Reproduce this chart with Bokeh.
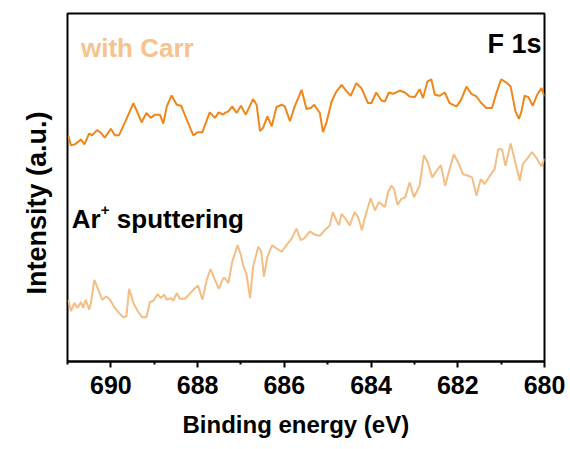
from bokeh.plotting import figure
from bokeh.models import Range1d, FixedTicker, Label, Title
from bokeh.embed import file_html
from bokeh.resources import INLINE

# Binding energy (eV) and intensity (a.u.)
carr_energy = [690.98, 690.92, 690.83, 690.69, 690.61, 690.50, 690.43, 690.32, 690.23, 690.14,
               690.00, 689.91, 689.81, 689.68, 689.48, 689.29, 689.18, 689.08, 688.98, 688.87,
               688.79, 688.71, 688.60, 688.48, 688.38, 688.25, 688.10, 687.99, 687.89, 687.72,
               687.60, 687.51, 687.41, 687.37, 687.29, 687.20, 687.10, 687.00, 686.89, 686.72,
               686.64, 686.56, 686.49, 686.39, 686.29, 686.18, 686.06, 685.99, 685.87, 685.76,
               685.60, 685.49, 685.39, 685.31, 685.18, 685.11, 685.03, 684.91, 684.80, 684.68,
               684.59, 684.47, 684.34, 684.22, 684.07, 683.99, 683.88, 683.76, 683.68, 683.59,
               683.49, 683.34, 683.22, 683.11, 682.99, 682.88, 682.80, 682.70, 682.61, 682.53,
               682.42, 682.30, 682.19, 682.03, 681.93, 681.80, 681.69, 681.57, 681.46, 681.34,
               681.21, 681.11, 681.00, 680.88, 680.78, 680.67, 680.59, 680.53, 680.46, 680.37,
               680.27, 680.17, 680.07, 680.00]
carr_intensity = [227.3, 218, 219, 224, 219, 230, 228, 233.3, 230.7, 225.7,
                  234.7, 228.3, 228.3, 240.7, 260.7, 241.3, 250.7, 245.7, 249, 249,
                  240, 257.3, 268.3, 259, 258, 244, 228, 231.3, 231.3, 251.3,
                  245.7, 251.3, 249, 250.7, 252.3, 257.3, 250.7, 258, 249, 264.7,
                  259, 232.3, 235.7, 247.3, 237.3, 256.7, 259, 257.3, 242.3, 257.3,
                  274, 254.7, 255.7, 259, 250.7, 231.3, 240.7, 262.3, 272.3, 279,
                  274, 268, 280.7, 275.7, 260.7, 260.7, 271.3, 263.3, 262.3, 271.3,
                  270, 273.3, 271.3, 267.3, 266.7, 274.7, 265.7, 282.3, 284.7, 269,
                  268, 271.3, 260.7, 257.3, 263.3, 277.3, 270, 267.3, 260.7, 255.7,
                  255.7, 270.7, 284.7, 281.3, 277.3, 252.3, 244.7, 252.3, 268, 266.7,
                  258, 269, 275.7, 267.3]

ar_energy = [690.98, 690.92, 690.84, 690.77, 690.69, 690.64, 690.58, 690.50, 690.46, 690.38,
             690.29, 690.20, 690.10, 690.02, 689.91, 689.81, 689.71, 689.64, 689.58, 689.48,
             689.38, 689.28, 689.18, 689.10, 689.02, 688.92, 688.85, 688.77, 688.71, 688.62,
             688.56, 688.48, 688.41, 688.29, 688.20, 688.10, 687.99, 687.89, 687.79, 687.70,
             687.60, 687.51, 687.41, 687.37, 687.29, 687.20, 687.08, 687.00, 686.95, 686.87,
             686.79, 686.72, 686.60, 686.53, 686.47, 686.39, 686.28, 686.18, 686.06, 685.95,
             685.83, 685.72, 685.62, 685.53, 685.41, 685.30, 685.18, 685.07, 684.95, 684.88,
             684.80, 684.74, 684.68, 684.59, 684.49, 684.38, 684.30, 684.21, 684.15, 684.01,
             683.91, 683.82, 683.72, 683.68, 683.61, 683.53, 683.47, 683.39, 683.30, 683.21,
             683.11, 683.01, 682.88, 682.78, 682.69, 682.59, 682.49, 682.39, 682.29, 682.19,
             682.09, 681.99, 681.88, 681.76, 681.67, 681.57, 681.47, 681.38, 681.26, 681.15,
             681.07, 680.98, 680.90, 680.78, 680.69, 680.57, 680.50, 680.38, 680.29, 680.19,
             680.07, 680.00]
ar_intensity = [62.3, 50.7, 59, 54, 60, 54, 62.3, 52.3, 59, 82.3,
                72.3, 62.3, 65.7, 62.3, 54, 49, 44.7, 45.7, 73.3, 59,
                50.7, 44.7, 44.7, 60, 61.3, 68, 64, 67.3, 62.3, 64,
                61.3, 69, 63.3, 63.3, 67.3, 72.3, 76.7, 62.3, 82.3, 93.3,
                82.3, 73.3, 84, 84, 79, 100.7, 117.3, 107.3, 97.3, 87.3,
                64, 95.7, 115.7, 110.7, 85.7, 105.7, 117.3, 114, 110.7, 117.3,
                124, 134, 122.3, 124.7, 131.3, 128, 126.7, 132.3, 137.3, 150.7,
                142.3, 137.3, 149, 144, 137.3, 150.7, 145.7, 132.3, 144, 164.7,
                152.3, 160.7, 157.3, 155.7, 170.7, 177.3, 174, 158, 164, 165.7,
                180.7, 165.7, 177.3, 208, 200.7, 185.7, 192.3, 198, 177.3, 194,
                209, 200.7, 189, 187.3, 185.7, 167.3, 184, 179, 187.3, 194,
                214, 214, 197.3, 220, 204, 182.3, 199, 205.7, 211.3, 205.7,
                196.7, 204.7]

major_ticks = [690, 688, 686, 684, 682, 680]
minor_ticks = [691, 689, 687, 685, 683, 681]

FONT = "Liberation Sans"

p = figure(width=570, height=449, output_backend="svg", toolbar_location=None,
           x_range=Range1d(691, 680), y_range=Range1d(0, 351),
           min_border_left=67, min_border_right=26, min_border_top=13, min_border_bottom=85)
p.grid.visible = False
p.background_fill_color = "white"
p.border_fill_color = "white"
p.outline_line_color = "black"
p.outline_line_width = 2

p.line(carr_energy, carr_intensity, line_color="#F0861A", line_width=2)
p.line(ar_energy, ar_intensity, line_color="#F5BD84", line_width=2)

xa = p.xaxis[0]
xa.ticker = FixedTicker(ticks=major_ticks, minor_ticks=minor_ticks)
xa.axis_line_width = 2
xa.major_tick_line_width = 2
xa.minor_tick_line_width = 2
xa.major_tick_in = 0
xa.major_tick_out = 6
xa.minor_tick_in = 0
xa.minor_tick_out = 3
xa.major_label_text_font = FONT
xa.major_label_text_font_style = "bold"
xa.major_label_text_font_size = "25px"
xa.major_label_text_color = "black"
xa.major_label_standoff = 8

p.yaxis.visible = False

# axis titles
p.add_layout(Title(text="Binding energy (eV)", text_font=FONT, text_font_style="bold",
                   text_font_size="24px", text_color="black", align="left", offset=115,
                   standoff=24), "below")
p.add_layout(Title(text="Intensity (a.u.)", text_font=FONT, text_font_style="bold",
                   text_font_size="27px", text_color="black", align="left", offset=67,
                   standoff=32), "left")

p.add_layout(Label(x=690.69, y=316, text="with Carr", text_font=FONT, text_font_style="bold",
                   text_font_size="26px", text_color="#F7C28C", text_baseline="middle"))
p.add_layout(Label(x=680.07, y=320, text="F 1s", text_font=FONT, text_font_style="bold",
                   text_font_size="27px", text_color="black", text_baseline="middle",
                   text_align="right"))
p.add_layout(Label(x=690.9, y=144, text="Ar", text_font=FONT, text_font_style="bold",
                   text_font_size="26px", text_color="black", text_baseline="middle"))
p.add_layout(Label(x=690.9, y=144, x_offset=29, y_offset=9, text="+", text_font=FONT,
                   text_font_style="bold", text_font_size="15px", text_color="black",
                   text_baseline="middle"))
p.add_layout(Label(x=690.9, y=144, x_offset=45, text="sputtering", text_font=FONT,
                   text_font_style="bold", text_font_size="26px", text_color="black",
                   text_baseline="middle"))

open("out.html", "w").write(file_html(p, INLINE))
